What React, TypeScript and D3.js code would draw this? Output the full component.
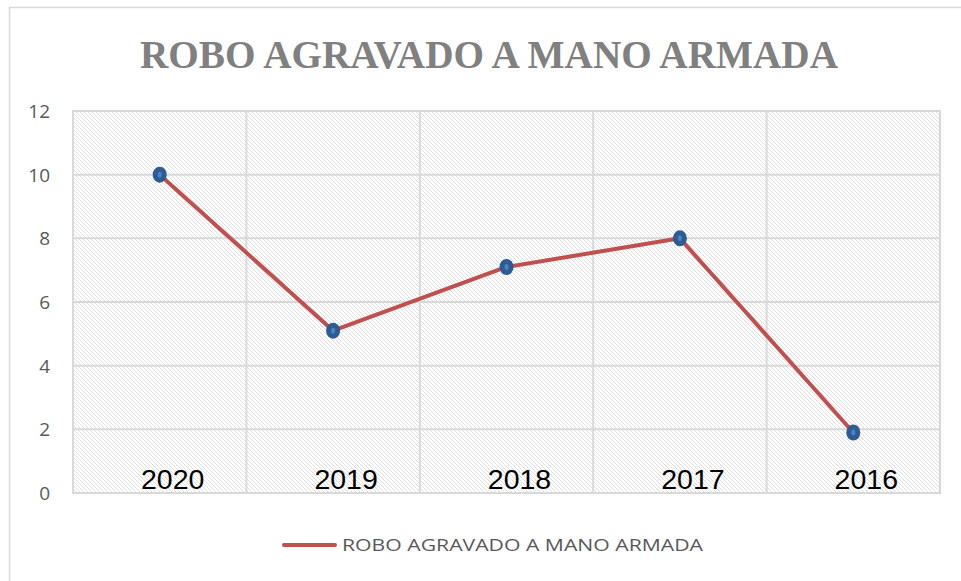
import React, { useEffect } from "react";
import * as d3 from "d3";

const categories = ["2020", "2019", "2018", "2017", "2016"];
const values = [10, 5.1, 7.1, 8, 1.9];
const yTicks = [0, 2, 4, 6, 8, 10, 12];
const title = "ROBO AGRAVADO A MANO ARMADA";
const seriesName = "ROBO AGRAVADO A MANO ARMADA";

const W = 961;
const H = 581;
const margin = { left: 73, right: 21, top: 111, bottom: 88 };

const App = () => {
  useEffect(() => {
    document.body.style.margin = "0";
  }, []);

  const x = d3
    .scaleBand()
    .domain(categories)
    .range([margin.left, W - margin.right]);
  const y = d3
    .scaleLinear()
    .domain([0, 12])
    .range([H - margin.bottom, margin.top]);

  const line = d3
    .line<number>()
    .x((_, i) => x(categories[i])! + x.bandwidth() / 2)
    .y((d) => y(d));

  const plotW = W - margin.left - margin.right;
  const plotH = H - margin.top - margin.bottom;
  const grid = "#d9d9d9";

  return (
    <svg width={W} height={H} style={{ display: "block" }}>
      <defs>
        <pattern id="hatch" patternUnits="userSpaceOnUse" width="4" height="4">
          <rect width="4" height="4" fill="#ffffff" />
          <path d="M0,0 L4,4 M-1,3 L1,5 M3,-1 L5,1" stroke="#dcdcdc" strokeWidth="0.9" />
        </pattern>
      </defs>
      <rect x={0} y={0} width={W} height={H} fill="#ffffff" />
      {/* cadre du graphique */}
      <rect x={9.5} y={7.5} width={W} height={H} fill="none" stroke={grid} strokeWidth={1.5} />

      <text
        x={489}
        y={68}
        textAnchor="middle"
        fontFamily="'Liberation Serif', serif"
        fontWeight="bold"
        fontSize={40}
        fill="#808080"
        textLength={698}
        lengthAdjust="spacingAndGlyphs"
      >
        {title}
      </text>

      {/* zone de tracé */}
      <rect x={margin.left} y={margin.top} width={plotW} height={plotH} fill="url(#hatch)" />
      {yTicks.map((t) => (
        <line key={"h" + t} x1={margin.left} x2={W - margin.right} y1={y(t)} y2={y(t)} stroke={grid} strokeWidth={2} />
      ))}
      {categories.map((c) => (
        <line key={"v" + c} x1={x(c)!} x2={x(c)!} y1={margin.top} y2={H - margin.bottom} stroke={grid} strokeWidth={2} />
      ))}
      <rect x={margin.left} y={margin.top} width={plotW} height={plotH} fill="none" stroke={grid} strokeWidth={2} />

      {yTicks.map((t) => (
        <text
          key={"t" + t}
          x={50}
          y={y(t)}
          dy="0.36em"
          textAnchor="end"
          fontFamily="'Open Sans', sans-serif"
          fontSize={19}
          fill="#595959"
        >
          {t}
        </text>
      ))}

      {categories.map((c) => (
        <text
          key={"c" + c}
          x={x(c)! + x.bandwidth() / 2 + 13}
          y={H - margin.bottom - 4}
          textAnchor="middle"
          fontFamily="'Liberation Sans', Arial, sans-serif"
          fontSize={28.5}
          fill="#000000"
        >
          {c}
        </text>
      ))}

      <path d={line(values)!} fill="none" stroke="#c0504d" strokeWidth={4} strokeLinejoin="round" />
      {values.map((v, i) => {
        const cx = x(categories[i])! + x.bandwidth() / 2;
        return (
          <g key={"m" + i}>
            <ellipse cx={cx} cy={y(v)} rx={7} ry={8} fill="#2d5b93" />
            <ellipse cx={cx} cy={y(v)} rx={2} ry={3} fill="#4f81bd" />
          </g>
        );
      })}

      {/* légende */}
      <line x1={284} x2={335} y1={545} y2={545} stroke="#c0504d" strokeWidth={4} strokeLinecap="round" />
      <text
        x={342}
        y={551}
        fontFamily="'Open Sans', sans-serif"
        fontSize={16}
        fill="#595959"
        textLength={361}
        lengthAdjust="spacingAndGlyphs"
      >
        {seriesName}
      </text>
    </svg>
  );
};

export default App;
